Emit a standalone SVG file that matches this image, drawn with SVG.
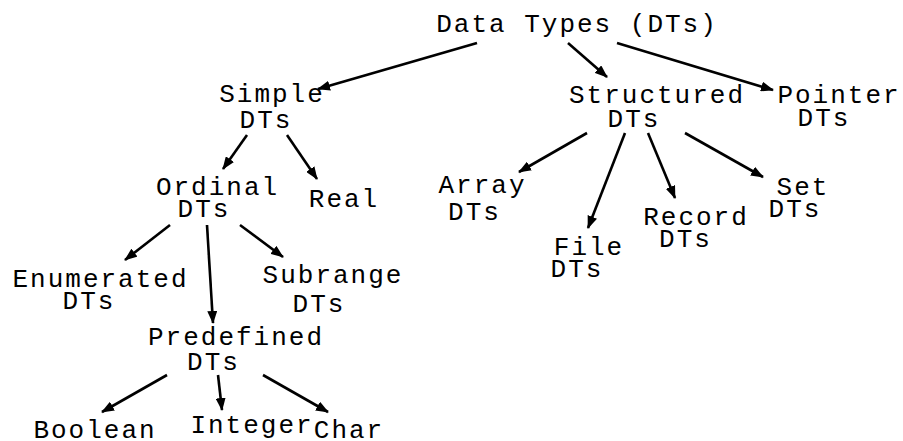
<svg xmlns="http://www.w3.org/2000/svg" width="903" height="441" viewBox="0 0 903 441">
<style>
text{font-family:"Liberation Mono","DejaVu Sans Mono",monospace;font-size:26px;letter-spacing:2px;fill:#000;text-anchor:middle}
.c line{stroke:#000;stroke-width:2.6;marker-end:url(#ah)}
</style>
<defs>
<marker id="ah" viewBox="0 0 13 10" refX="12" refY="5" markerWidth="13" markerHeight="10" markerUnits="userSpaceOnUse" orient="auto">
<path d="M0,0 L13,5 L0,10 z" fill="#000"/>
</marker>
</defs>
<rect width="903" height="441" fill="#fff"/>
<g id="n-root"><text x="577" y="32">Data Types (DTs)</text></g>
<g id="n-simple"><text x="272" y="102">Simple</text><text x="266" y="128">DTs</text></g>
<g id="n-structured"><text x="657" y="103">Structured</text><text x="634" y="127">DTs</text></g>
<g id="n-pointer"><text x="839" y="103">Pointer</text><text x="824" y="126">DTs</text></g>
<g id="n-ordinal"><text x="217.5" y="195">Ordinal</text><text x="204" y="217">DTs</text></g>
<g id="n-real"><text x="344" y="207">Real</text></g>
<g id="n-enumerated"><text x="100.5" y="287">Enumerated</text><text x="89" y="309">DTs</text></g>
<g id="n-subrange"><text x="333" y="283">Subrange</text><text x="319" y="312">DTs</text></g>
<g id="n-predefined"><text x="236" y="345">Predefined</text><text x="213.5" y="370">DTs</text></g>
<g id="n-boolean"><text x="95" y="438">Boolean</text></g>
<g id="n-integer"><text x="252" y="433">Integer</text></g>
<g id="n-char"><text x="349" y="438">Char</text></g>
<g id="n-array"><text x="482.5" y="193">Array</text><text x="474.5" y="220">DTs</text></g>
<g id="n-file"><text x="589" y="255">File</text><text x="577" y="277">DTs</text></g>
<g id="n-record"><text x="696" y="225">Record</text><text x="685.5" y="247">DTs</text></g>
<g id="n-set"><text x="803" y="195">Set</text><text x="795" y="217">DTs</text></g>
<g id="connectors" class="c">
<line x1="477" y1="43" x2="318" y2="89"/>
<line x1="568" y1="43" x2="607" y2="77"/>
<line x1="617" y1="43" x2="773" y2="90"/>
<line x1="247" y1="135" x2="223" y2="169"/>
<line x1="287" y1="135" x2="317" y2="179"/>
<line x1="170" y1="225" x2="125" y2="260"/>
<line x1="207" y1="225" x2="213" y2="323"/>
<line x1="240" y1="225" x2="283" y2="257"/>
<line x1="167" y1="375" x2="102" y2="412"/>
<line x1="218" y1="375" x2="222" y2="410"/>
<line x1="263" y1="375" x2="328" y2="412"/>
<line x1="587" y1="133" x2="519" y2="172"/>
<line x1="625" y1="133" x2="588" y2="228"/>
<line x1="648" y1="133" x2="675" y2="198"/>
<line x1="685" y1="133" x2="763" y2="177"/>
</g>
</svg>
